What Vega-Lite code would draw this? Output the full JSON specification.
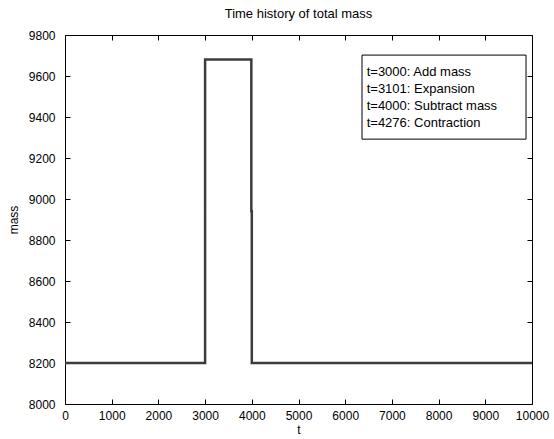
{
  "$schema": "https://vega.github.io/schema/vega-lite/v6.json",
  "width": 467,
  "height": 369,
  "autosize": "none",
  "padding": {"left": 65, "top": 35, "right": 22, "bottom": 35},
  "background": "white",
  "config": {
    "font": "Liberation Sans",
    "view": {"stroke": "#000000", "strokeWidth": 1},
    "axis": {
      "grid": false,
      "domain": false,
      "tickColor": "#000000",
      "tickSize": -5,
      "labelColor": "#000000",
      "labelFontSize": 12,
      "labelFont": "Liberation Sans",
      "titleFont": "Liberation Sans",
      "titleFontSize": 12,
      "titleFontWeight": "normal",
      "titleColor": "#000000"
    },
    "title": {"font": "Liberation Sans", "fontSize": 13, "fontWeight": "normal", "color": "#000000"}
  },
  "title": {"text": "Time history of total mass", "anchor": "middle", "offset": 8},
  "resolve": {"axis": {"x": "independent", "y": "independent"}},
  "datasets": {
    "series": [
      {"t": 0, "mass": 8200},
      {"t": 3000, "mass": 8200},
      {"t": 3000, "mass": 9680},
      {"t": 3990, "mass": 9680},
      {"t": 3990, "mass": 8940},
      {"t": 4000, "mass": 8940},
      {"t": 4000, "mass": 8200},
      {"t": 10000, "mass": 8200}
    ],
    "legend": [
      {"label": "t=3000: Add mass", "lt": 6460, "lm": 9619},
      {"label": "t=3101: Expansion", "lt": 6460, "lm": 9539},
      {"label": "t=4000: Subtract mass", "lt": 6460, "lm": 9456},
      {"label": "t=4276: Contraction", "lt": 6460, "lm": 9373}
    ],
    "box": [{"x1": 6360, "x2": 9872, "y1": 9292, "y2": 9702}]
  },
  "layer": [
    {
      "data": {"name": "series"},
      "mark": {"type": "line", "color": "#3c3c3c", "strokeWidth": 2.5, "interpolate": "linear"},
      "encoding": {
        "x": {"field": "t", "type": "quantitative", "scale": {"domain": [0, 10000], "nice": false},
              "axis": {"orient": "bottom", "title": "t", "values": [0,1000,2000,3000,4000,5000,6000,7000,8000,9000,10000], "format": "d", "labelPadding": 11, "titlePadding": 3, "labelFlush": false}},
        "y": {"field": "mass", "type": "quantitative", "scale": {"domain": [8000, 9800], "nice": false, "zero": false},
              "axis": {"orient": "left", "title": "mass", "values": [8000,8200,8400,8600,8800,9000,9200,9400,9600,9800], "format": "d", "labelPadding": 15, "titlePadding": 8}}
      }
    },
    {
      "data": {"name": "series"},
      "mark": {"type": "line", "opacity": 0},
      "encoding": {
        "x": {"field": "t", "type": "quantitative", "axis": {"orient": "top", "labels": false, "title": null, "values": [0,1000,2000,3000,4000,5000,6000,7000,8000,9000,10000]}},
        "y": {"field": "mass", "type": "quantitative", "axis": {"orient": "right", "labels": false, "title": null, "values": [8000,8200,8400,8600,8800,9000,9200,9400,9600,9800]}}
      }
    },
    {
      "data": {"name": "box"},
      "mark": {"type": "rect", "fill": "white", "stroke": "#000000", "strokeWidth": 1},
      "encoding": {
        "x": {"field": "x1", "type": "quantitative", "axis": null},
        "x2": {"field": "x2"},
        "y": {"field": "y1", "type": "quantitative", "axis": null},
        "y2": {"field": "y2"}
      }
    },
    {
      "data": {"name": "legend"},
      "mark": {"type": "text", "align": "left", "baseline": "middle", "fontSize": 13, "font": "Liberation Sans", "color": "#000000"},
      "encoding": {
        "x": {"field": "lt", "type": "quantitative", "axis": null},
        "y": {"field": "lm", "type": "quantitative", "axis": null},
        "text": {"field": "label"}
      }
    }
  ]
}
